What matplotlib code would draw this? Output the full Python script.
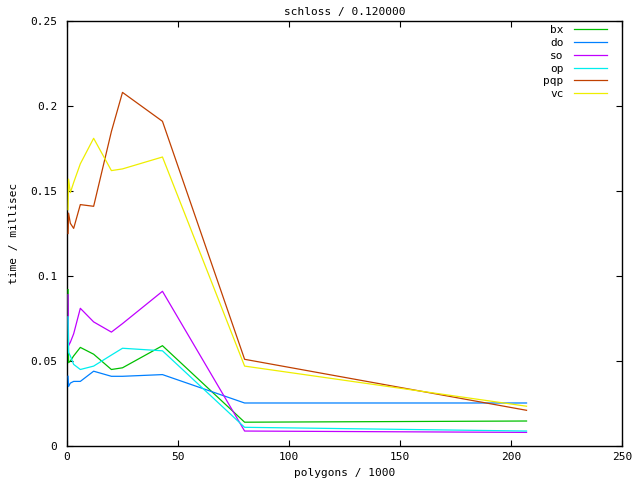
import matplotlib
matplotlib.use("Agg")
import matplotlib.pyplot as plt

# polygons / 1000
polygons = [0.5, 0.7, 1.5, 3, 6, 12, 20, 25, 43, 80, 207]

# time / millisec per method
bx = [0.092, 0.049, 0.050, 0.053, 0.058, 0.054, 0.045, 0.046, 0.059, 0.014, 0.0147]
do = [0.041, 0.035, 0.037, 0.038, 0.038, 0.044, 0.041, 0.041, 0.042, 0.0253, 0.0253]
so = [0.089, 0.059, 0.061, 0.066, 0.081, 0.073, 0.067, 0.072, 0.091, 0.0088, 0.0080]
op = [0.076, 0.055, 0.053, 0.048, 0.045, 0.047, 0.0535, 0.0575, 0.056, 0.011, 0.0088]
pqp = [0.125, 0.137, 0.131, 0.128, 0.142, 0.141, 0.185, 0.208, 0.191, 0.051, 0.021]
vc = [0.139, 0.157, 0.149, 0.155, 0.166, 0.181, 0.162, 0.163, 0.170, 0.047, 0.0234]

series = [("bx", bx, "#00c000"), ("do", do, "#0080ff"), ("so", so, "#c000ff"),
          ("op", op, "#00eeee"), ("pqp", pqp, "#c04000"), ("vc", vc, "#eeee00")]

xticks = [0, 50, 100, 150, 200, 250]
yticks = [0, 0.05, 0.1, 0.15, 0.2, 0.25]
ytick_labels = ["0", "0.05", "0.1", "0.15", "0.2", "0.25"]

plt.rcParams['font.family'] = 'DejaVu Sans Mono'
plt.rcParams['font.size'] = 8

fig = plt.figure(figsize=(6.4, 4.8), dpi=100)
ax = fig.add_axes([67 / 640, 34 / 480, 555 / 640, 425 / 480])

# lines go over the border, like gnuplot draws them
for name, vals, color in series:
    ax.plot(polygons, vals, color=color, lw=0.9, label=name, zorder=3)

ax.set_xlim(0, 250)
ax.set_ylim(0, 0.25)
ax.set_xticks(xticks)
ax.set_yticks(yticks)
ax.set_yticklabels(ytick_labels)
ax.tick_params(direction='in', length=4.5, width=0.8, top=True, right=True)
ax.tick_params(axis='y', pad=7)
ax.tick_params(axis='x', pad=4)
for s in ax.spines.values():
    s.set_linewidth(1.0)

ax.set_title("schloss / 0.120000", fontsize=8, pad=4)
ax.set_xlabel("polygons / 1000", labelpad=5)
ax.set_ylabel("time / millisec", labelpad=8)

ax.legend(loc='upper right', bbox_to_anchor=(0.973, 0.99), borderaxespad=0,
          borderpad=0, frameon=False, markerfirst=False, handlelength=3.0,
          handletextpad=0.9, labelspacing=0.25)

fig.savefig("out.png", dpi=100)
